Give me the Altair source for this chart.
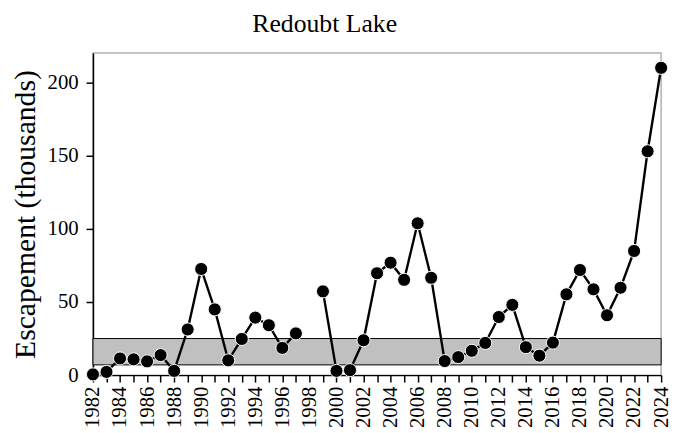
import altair as alt
import pandas as pd

years = list(range(1982, 2025))
escapement = [0.5, 2.2, 11.4, 10.8, 9.4, 13.7, 2.9, 31.2, 72.5, 44.9, 10.1, 24.7,
              39.3, 34.1, 18.6, 28.5, None, 57.2, 2.9, 3.4, 23.8, 69.6, 76.8, 65.1,
              103.7, 66.5, 9.6, 12.3, 16.6, 22.0, 39.7, 48.0, 19.1, 13.3, 22.2, 55.2,
              71.8, 58.6, 40.9, 59.7, 84.8, 152.9, 209.9]
goal_low = [7]
goal_high = [25]

df = pd.DataFrame({"year": years, "esc": escapement})
# segment id so the line breaks where a year is missing
seg = []
s = 0
for v in escapement:
    if v is None:
        s += 1
    seg.append(s)
df["seg"] = seg
df = df.dropna()

band = pd.DataFrame({"lo": goal_low, "hi": goal_high,
                     "x0": [years[0]], "x1": [years[-1]]})

FONT = "Liberation Serif"
W, H = 575, 326

xscale = alt.Scale(domain=[years[0], years[-1]], nice=False, zero=False)
yscale = alt.Scale(domain=[0, 220], nice=False)

xaxis = alt.Axis(values=years, labelExpr="datum.value % 2 == 0 ? datum.label : ''",
                 format="d", labelAngle=270, labelOverlap=False, labelFlush=False,
                 labelBound=False, grid=False, title=None, tickSize=7,
                 labelPadding=4, labelFontSize=21)
yaxis = alt.Axis(values=[0, 50, 100, 150, 200], grid=False,
                 title="Escapement (thousands)", tickSize=7, labelPadding=8,
                 labelFontSize=21, titleFontSize=30, titleFontWeight="normal",
                 titlePadding=7)

rect = alt.Chart(band).mark_rect(color="#c0c0c0", stroke="black", strokeWidth=1).encode(
    x=alt.X("x0:Q", scale=xscale, axis=xaxis),
    x2="x1:Q",
    y=alt.Y("lo:Q", scale=yscale, axis=yaxis),
    y2="hi:Q",
)

line = alt.Chart(df).mark_line(color="black", strokeWidth=2.4).encode(
    x=alt.X("year:Q", scale=xscale, axis=xaxis),
    y=alt.Y("esc:Q", scale=yscale, axis=yaxis),
    detail="seg:N",
)

pts = alt.Chart(df).mark_point(filled=True, shape="circle", size=175, color="black",
                              stroke="white", strokeWidth=1, opacity=1).encode(
    x=alt.X("year:Q", scale=xscale, axis=xaxis),
    y=alt.Y("esc:Q", scale=yscale, axis=yaxis),
)

chart = alt.layer(rect, line, pts).properties(
    width=W, height=H,
    title=alt.TitleParams("Redoubt Lake", font=FONT, fontSize=26, fontWeight="normal",
                          color="black", anchor="middle", offset=16, dx=-53),
    autosize=alt.AutoSizeParams(type="none"),
    padding={"left": 86, "top": 43, "right": 11, "bottom": 56},
).configure_view(stroke="#b0b0b0", strokeWidth=1.5).configure_axis(
    labelFont=FONT, titleFont=FONT, labelColor="black", titleColor="black",
    domainColor="black", tickColor="black", domainWidth=1.5, tickWidth=1.5,
)

chart.save("out.html", embed_options={"renderer": "svg", "actions": False})
